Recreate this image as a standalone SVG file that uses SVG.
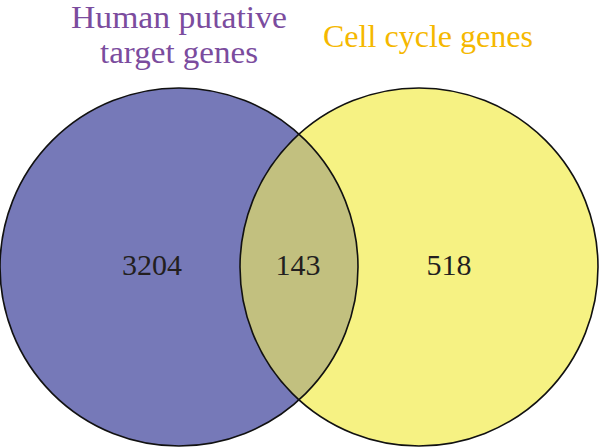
<svg xmlns="http://www.w3.org/2000/svg" width="600" height="447" viewBox="0 0 600 447">
<style>
.lbl{font-family:"Liberation Serif","DejaVu Serif",serif;font-size:31px;text-anchor:middle}
.num{font-family:"Liberation Serif","DejaVu Serif",serif;font-size:30px;fill:#231f20;text-anchor:middle}
.edge{fill:none;stroke:#111;stroke-width:1.6}
</style>
<defs>
<clipPath id="clipL"><circle cx="179" cy="267" r="179"/></clipPath>
</defs>
<g id="set-human">
<circle cx="179" cy="267" r="179" fill="#7679b8"/>
<text class="lbl" x="179" y="28" fill="#7b4c9e" textLength="216" lengthAdjust="spacingAndGlyphs">Human putative</text>
<text class="lbl" x="179" y="63" fill="#7b4c9e" textLength="158" lengthAdjust="spacingAndGlyphs">target genes</text>
<text class="num" x="152" y="275">3204</text>
</g>
<g id="set-cellcycle">
<circle cx="419" cy="267" r="179" fill="#f6f283"/>
<text class="lbl" x="428" y="47" fill="#f5b800" textLength="210" lengthAdjust="spacingAndGlyphs">Cell cycle genes</text>
<text class="num" x="449" y="275">518</text>
</g>
<g id="overlap">
<circle cx="419" cy="267" r="179" fill="#c2c07f" clip-path="url(#clipL)"/>
<text class="num" x="298" y="275">143</text>
</g>
<g id="outlines">
<circle class="edge" cx="179" cy="267" r="179"/>
<circle class="edge" cx="419" cy="267" r="179"/>
</g>
</svg>
